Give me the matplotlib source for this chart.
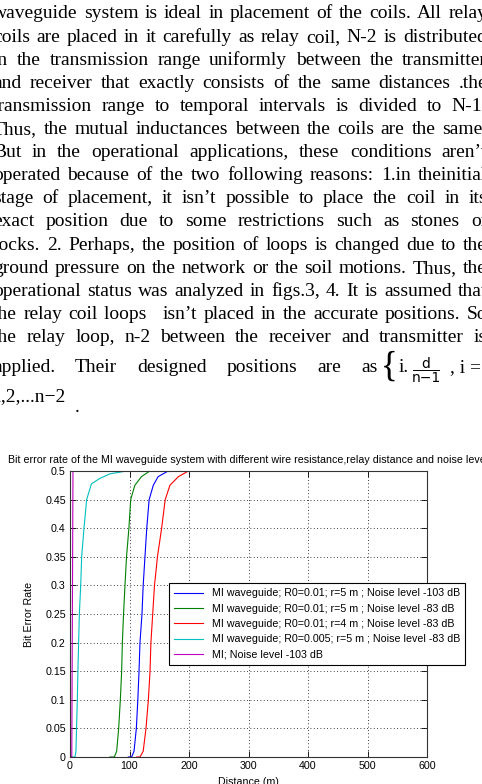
import matplotlib
matplotlib.use("Agg")
import matplotlib.pyplot as plt
from matplotlib.lines import Line2D

W, H = 482, 784

# ---------------- data ----------------
body_lines = [
    "waveguide system is ideal in placement of the coils. All relay",
    "coils are placed in it carefully as relay coil, N-2 is distributed",
    "in the transmission range uniformly between the transmitter",
    "and receiver that exactly consists of the same distances .the",
    "transmission range to temporal intervals is divided to N-1.",
    "Thus, the mutual inductances between the coils are the same.",
    "But in the operational applications, these conditions aren\u2019t",
    "operated because of the two following reasons: 1.in theinitial",
    "stage of placement, it isn\u2019t possible to place the coil in its",
    "exact position due to some restrictions such as stones or",
    "rocks. 2. Perhaps, the position of loops is changed due to the",
    "ground pressure on the network or the soil motions. Thus, the",
    "operational status was analyzed in figs.3, 4. It is assumed that",
    "the relay coil loops\u00a0\u00a0 isn\u2019t placed in the accurate positions. So",
    "the relay loop, n-2 between the receiver and transmitter is",
]
last_line_words = "applied. Their designed positions are as"
tail_line = "1,2,...n\u22122"

chart_title = ("Bit error rate of the MI waveguide system with different wire "
               "resistance,relay distance and noise level")
x_label = "Distance (m)"
y_label = "Bit Error Rate"
x_ticks = [0, 100, 200, 300, 400, 500, 600]
y_ticks = [0, 0.05, 0.1, 0.15, 0.2, 0.25, 0.3, 0.35, 0.4, 0.45, 0.5]
y_tick_labels = ["0", "0.05", "0.1", "0.15", "0.2", "0.25", "0.3", "0.35", "0.4", "0.45", "0.5"]

labels = [
    "MI waveguide; R0=0.01; r=5 m ; Noise level -103 dB",
    "MI waveguide; R0=0.01; r=5 m ; Noise level -83 dB",
    "MI waveguide; R0=0.01; r=4 m ; Noise level -83 dB",
    "MI waveguide; R0=0.005; r=5 m ; Noise level -83 dB",
    "MI; Noise level -103 dB",
]
colors = ["#0000ff", "#008000", "#ff0000", "#00bfbf", "#bf00bf"]

blue_d = [98, 103.6, 107.6, 111.5, 114, 116, 117.6, 121, 123, 126, 129, 133, 140, 148, 165]
blue_b = [0, 0, 0.01, 0.05, 0.1, 0.15, 0.2, 0.25, 0.3, 0.35, 0.4, 0.45, 0.475, 0.49, 0.5]
green_d = [67, 74.5, 78.4, 81.8, 84.6, 86.8, 88, 90, 92.4, 95, 99, 102, 109, 120, 134]
green_b = [0, 0, 0.01, 0.05, 0.1, 0.15, 0.2, 0.25, 0.3, 0.35, 0.4, 0.45, 0.475, 0.49, 0.5]
red_d = [112, 117.6, 123, 127.7, 131.7, 134.5, 136, 139, 142, 147, 154, 160, 168, 182, 199, 210]
red_b = [0, 0, 0.01, 0.05, 0.1, 0.15, 0.2, 0.25, 0.3, 0.35, 0.4, 0.45, 0.475, 0.49, 0.5, 0.5]
cyan_d = [4, 8.4, 10, 11, 12.3, 13.3, 14.5, 15.7, 18, 19.6, 23.5, 28, 36, 50, 67, 95]
cyan_b = [0, 0, 0.01, 0.05, 0.1, 0.15, 0.2, 0.25, 0.3, 0.35, 0.4, 0.45, 0.4775, 0.487, 0.495, 0.5]
purple_d = [2, 3, 4, 5, 6]
purple_b = [0, 0, 0.25, 0.5, 0.5]

series = [(blue_d, blue_b), (green_d, green_b), (red_d, red_b),
          (cyan_d, cyan_b), (purple_d, purple_b)]

# ---------------- figure ----------------
fig = plt.figure(figsize=(W / 100, H / 100), dpi=100)
fig.patch.set_facecolor("white")
renderer = fig.canvas.get_renderer()

SERIF = "Liberation Serif"
SANS = "Liberation Sans"
BODY_FS = 14


def fx(x):
    return x / W


def fy(y):
    return 1 - y / H


def justify(words, y, left, right):
    texts = [fig.text(0, fy(y), w, fontsize=BODY_FS, family=SERIF, va="baseline")
             for w in words]
    widths = [t.get_window_extent(renderer).width for t in texts]
    gap = (right - left - sum(widths)) / max(len(words) - 1, 1)
    x = left
    for t, w in zip(texts, widths):
        t.set_x(fx(x))
        x += w + gap


col_left, col_right = -7, 487
for k, line in enumerate(body_lines):
    justify(line.split(" "), 18.5 + 23.1 * k, col_left, col_right)

# last justified line with inline formula
y16 = 371.7
justify(last_line_words.split(), y16, col_left, 378)
fig.text(fx(381), fy(y16 + 4), "{", fontsize=25, family=SERIF, va="baseline")
fig.text(fx(399), fy(y16), "i.", fontsize=BODY_FS, family=SERIF, va="baseline")
fig.text(fx(426), fy(y16 - 4), "d", fontsize=10, family="DejaVu Sans",
         va="baseline", ha="center")
fig.add_artist(Line2D([fx(413), fx(439)], [fy(y16 - 1.5), fy(y16 - 1.5)],
                      color="black", lw=0.7))
fig.text(fx(426), fy(y16 + 10), "n\u22121", fontsize=10, family="DejaVu Sans",
         va="baseline", ha="center")
fig.text(fx(450), fy(y16), ", i =", fontsize=BODY_FS, family=SERIF, va="baseline")
fig.text(fx(-9), fy(400.7), tail_line, fontsize=BODY_FS, family=SERIF, va="baseline")
fig.text(fx(75), fy(411.7), ".", fontsize=BODY_FS, family=SERIF, va="baseline")

# ---------------- chart ----------------
ax_l, ax_r, ax_t, ax_b = 70, 427, 471, 757
ax = fig.add_axes([fx(ax_l), fy(ax_b), (ax_r - ax_l) / W, (ax_b - ax_t) / H])
FS = 7.7
for (d, b), c, lab in zip(series, colors, labels):
    ax.plot(d, b, color=c, lw=0.8, label=lab)

ax.set_xlim(0, 600)
ax.set_ylim(0, 0.5)
ax.set_xticks(x_ticks)
ax.set_xticklabels([str(v) for v in x_ticks], family=SANS, fontsize=FS)
ax.set_yticks(y_ticks)
ax.set_yticklabels(y_tick_labels, family=SANS, fontsize=FS)
ax.tick_params(direction="in", length=4, width=0.6, top=True, right=True, pad=3)
ax.grid(True, linestyle=(0, (1, 3)), color="black", linewidth=0.6)
for s in ax.spines.values():
    s.set_linewidth(0.8)
    s.set_color("#333333")
ax.set_title(chart_title, family=SANS, fontsize=FS, pad=6)
ax.set_xlabel(x_label, family=SANS, fontsize=FS, labelpad=4)
ax.set_ylabel(y_label, family=SANS, fontsize=FS, labelpad=8)

leg = ax.legend(loc="upper left", bbox_to_anchor=(fx(169), fy(583)),
                bbox_transform=fig.transFigure, prop={"family": SANS, "size": FS},
                frameon=True, fancybox=False, handlelength=2.7, handletextpad=0.8,
                labelspacing=0.5, borderpad=0.5, borderaxespad=0)
leg.get_frame().set_edgecolor("black")
leg.get_frame().set_linewidth(0.8)
leg.get_frame().set_alpha(1)

fig.savefig("out.png", dpi=100, facecolor="white")
